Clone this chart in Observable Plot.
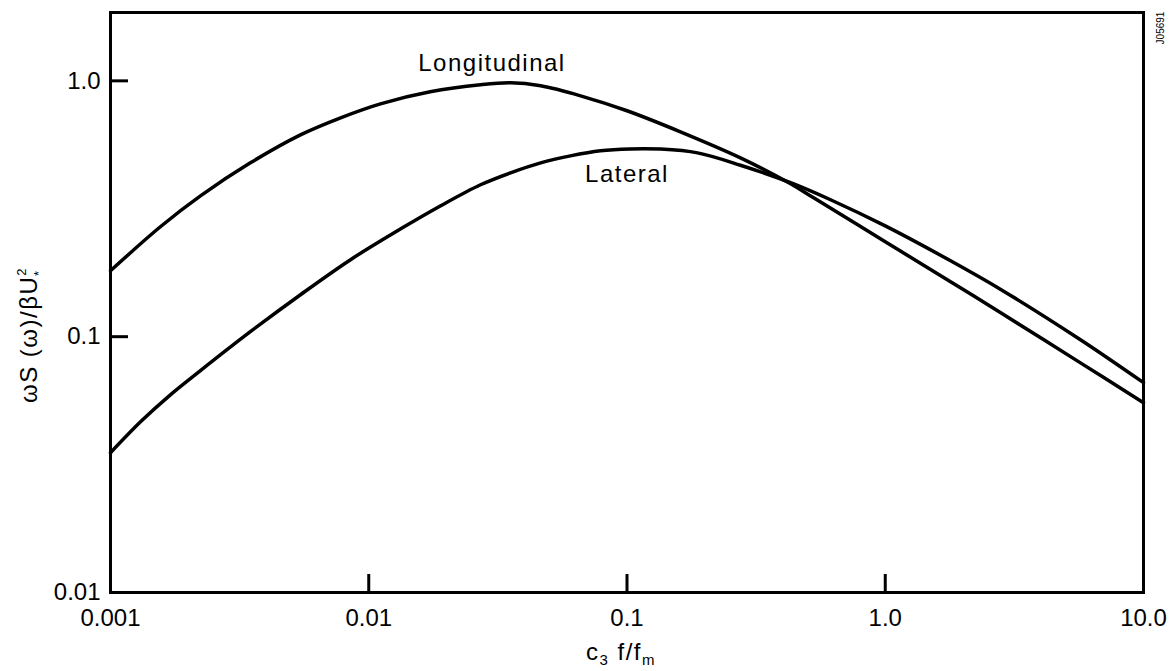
<!DOCTYPE html>
<html><head><meta charset="utf-8">
<script src="https://cdn.jsdelivr.net/npm/d3@7"></script>
<script src="https://cdn.jsdelivr.net/npm/@observablehq/plot@0.6"></script>
<style>
body{margin:0;background:#fff;}
</style></head>
<body><div id="chart"></div>
<script>
// Tick values and labels
const xTicks = [0.001, 0.01, 0.1, 1, 10];
const xTickLabels = ["0.001", "0.01", "0.1", "1.0", "10.0"];
const yTicks = [0.01, 0.1, 1];
const yTickLabels = ["0.01", "0.1", "1.0"];

// Longitudinal spectrum
const longX = [0.001, 0.00156, 0.00223, 0.00348, 0.00544, 0.00778, 0.0111, 0.0173, 0.0271, 0.0354, 0.0463, 0.0661, 0.1, 0.161, 0.275, 0.43, 0.528, 1.0, 1.79, 2.8, 5.7, 10];
const longY = [0.181, 0.269, 0.355, 0.478, 0.615, 0.717, 0.813, 0.906, 0.965, 0.982, 0.956, 0.874, 0.764, 0.632, 0.500, 0.396, 0.349, 0.235, 0.164, 0.124, 0.079, 0.0552];

// Lateral spectrum
const latX = [0.001, 0.00131, 0.00171, 0.00223, 0.00348, 0.00544, 0.0085, 0.0133, 0.019, 0.0271, 0.0354, 0.0463, 0.0604, 0.0789, 0.103, 0.135, 0.1875, 0.275, 0.43, 0.614, 1.0, 1.79, 2.8, 5.7, 10];
const latY = [0.0352, 0.0466, 0.0594, 0.0737, 0.1046, 0.1459, 0.200, 0.264, 0.325, 0.3925, 0.437, 0.478, 0.509, 0.533, 0.542, 0.541, 0.523, 0.468, 0.400, 0.343, 0.271, 0.198, 0.153, 0.0973, 0.0661];

// Curve labels
const labelNames = ["Longitudinal", "Lateral"];
const labelX = [0.03, 0.1];
const labelY = [1.17, 0.43];

const rows = [
  ...longX.map((x, i) => ({series: "Longitudinal", x, y: longY[i]})),
  ...latX.map((x, i) => ({series: "Lateral", x, y: latY[i]}))
];
const labels = labelNames.map((name, i) => ({name, x: labelX[i], y: labelY[i]}));

const font = "'Liberation Sans', Arial, Helvetica, sans-serif";

const chart = Plot.plot({
  width: 1173,
  height: 671,
  marginLeft: 110,
  marginRight: 30,
  marginTop: 12,
  marginBottom: 79,
  style: {fontFamily: font, fontSize: "24px", color: "black", background: "white", overflow: "visible"},
  x: {type: "log", domain: [0.001, 10]},
  y: {type: "log", domain: [0.01, 1.85]},
  marks: [
    Plot.axisX(xTicks, {tickSize: -18, tickPadding: 34, strokeWidth: 3, fontSize: 24,
      tickFormat: d => xTickLabels[xTicks.indexOf(d)], label: null}),
    Plot.axisY(yTicks, {tickSize: -18, tickPadding: 28, strokeWidth: 3, fontSize: 24,
      tickFormat: d => yTickLabels[yTicks.indexOf(d)], label: null}),
    Plot.frame({stroke: "black", strokeWidth: 3}),
    Plot.line(rows, {x: "x", y: "y", z: "series", stroke: "black", strokeWidth: 3.5, curve: "catmull-rom"}),
    Plot.text(labels, {x: "x", y: "y", text: "name", fontSize: 24, fill: "black", textAnchor: "middle",
      lineAnchor: "middle"})
  ]
});
document.getElementById("chart").appendChild(chart);

const svg = d3.select(chart);
svg.selectAll("g[aria-label='text'] text").attr("letter-spacing", "1.5px");

// Y-axis title
const yt = svg.append("text")
  .attr("transform", "translate(37,335) rotate(-90)")
  .attr("text-anchor", "middle")
  .attr("font-family", font)
  .attr("font-size", 24)
  .attr("letter-spacing", "1.5px")
  .attr("fill", "black");
yt.append("tspan").text("ωS (ω)/βU");
yt.append("tspan").attr("font-size", 13).attr("dy", -11).text("2");
yt.append("tspan").attr("font-size", 13).attr("dx", -9).attr("dy", 17).text("*");

// X-axis title
const xt = svg.append("text")
  .attr("x", 621).attr("y", 660)
  .attr("text-anchor", "middle")
  .attr("font-family", font)
  .attr("font-size", 24)
  .attr("letter-spacing", "1.5px")
  .attr("fill", "black");
xt.append("tspan").text("c");
xt.append("tspan").attr("font-size", 15).attr("dy", 5).text("3");
xt.append("tspan").attr("dy", -5).text(" f/f");
xt.append("tspan").attr("font-size", 15).attr("dy", 5).text("m");

// Figure identifier
svg.append("text")
  .attr("transform", "translate(1164,28) rotate(-90)")
  .attr("text-anchor", "middle")
  .attr("font-family", font)
  .attr("font-size", 10)
  .attr("fill", "black")
  .text("J05691");
</script>
</body></html>
